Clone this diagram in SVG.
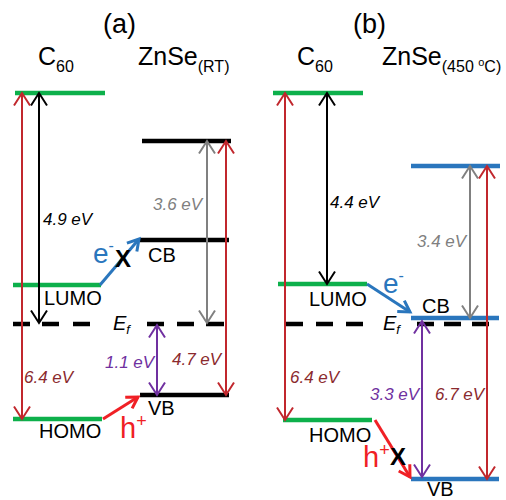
<svg xmlns="http://www.w3.org/2000/svg" width="506" height="500" viewBox="0 0 506 500">
<style>
text{font-family:"Liberation Sans",Arial,sans-serif;}
.title{font-size:27px;fill:#000;}
.mat{font-size:25px;fill:#000;}
.sub{font-size:16px;}
.lbl{font-size:20px;fill:#000;}
.ev{font-size:17px;font-style:italic;}
.lvl{stroke-width:4.5;fill:none;}
.green{stroke:#0db04b;}
.blk{stroke:#000;}
.blu{stroke:#2a76bd;}
.ef{stroke:#000;stroke-width:4.5;fill:none;}
.arr{fill:none;stroke-width:2;}
</style>
<defs>
<marker id="mRed" markerUnits="userSpaceOnUse" viewBox="-15 -15 30 30" markerWidth="30" markerHeight="30" refX="0" refY="0" orient="auto-start-reverse" overflow="visible"><path d="M-12.5,-8 L0,0 L-12.5,8" fill="none" stroke="#c1272d" stroke-width="2"/></marker>
<marker id="mBlk" markerUnits="userSpaceOnUse" viewBox="-15 -15 30 30" markerWidth="30" markerHeight="30" refX="0" refY="0" orient="auto-start-reverse" overflow="visible"><path d="M-12.5,-8 L0,0 L-12.5,8" fill="none" stroke="#000" stroke-width="2"/></marker>
<marker id="mGry" markerUnits="userSpaceOnUse" viewBox="-15 -15 30 30" markerWidth="30" markerHeight="30" refX="0" refY="0" orient="auto-start-reverse" overflow="visible"><path d="M-12.5,-8 L0,0 L-12.5,8" fill="none" stroke="#808080" stroke-width="2"/></marker>
<marker id="mPur" markerUnits="userSpaceOnUse" viewBox="-15 -15 30 30" markerWidth="30" markerHeight="30" refX="0" refY="0" orient="auto-start-reverse" overflow="visible"><path d="M-12.5,-8 L0,0 L-12.5,8" fill="none" stroke="#7030a0" stroke-width="2"/></marker>
<marker id="mBlu" markerUnits="userSpaceOnUse" viewBox="-15 -15 30 30" markerWidth="30" markerHeight="30" refX="0" refY="0" orient="auto" overflow="visible"><path d="M-11,-6.5 L0,0 L-11,6.5" fill="none" stroke="#2a76bd" stroke-width="3"/></marker>
<marker id="mHp" markerUnits="userSpaceOnUse" viewBox="-15 -15 30 30" markerWidth="30" markerHeight="30" refX="0" refY="0" orient="auto" overflow="visible"><path d="M-11,-6.5 L0,0 L-11,6.5" fill="none" stroke="#f02025" stroke-width="3"/></marker>
</defs>

<!-- Titles -->
<g id="title-a"><text class="title" x="119.5" y="33" text-anchor="middle">(a)</text></g>
<g id="title-b"><text class="title" x="369.5" y="33" text-anchor="middle">(b)</text></g>
<g id="head-c60-a"><text class="mat" x="38" y="65">C<tspan class="sub" dy="7">60</tspan></text></g>
<g id="head-znse-a"><text class="mat" x="138" y="65">ZnSe<tspan class="sub" dy="7">(RT)</tspan></text></g>
<g id="head-c60-b"><text class="mat" x="297" y="65">C<tspan class="sub" dy="7">60</tspan></text></g>
<g id="head-znse-b"><text class="mat" x="382" y="65">ZnSe<tspan class="sub" dy="7">(450 <tspan font-size="11" dy="-6">o</tspan><tspan dy="6">C)</tspan></tspan></text></g>

<!-- Panel (a) levels -->
<g id="a-c60-vac"><line class="lvl green" x1="15" y1="93" x2="105" y2="93"/></g>
<g id="a-lumo"><line class="lvl green" x1="13" y1="285" x2="101" y2="285"/><text class="lbl" x="44" y="305">LUMO</text></g>
<g id="a-homo"><line class="lvl green" x1="13" y1="419" x2="102" y2="419"/><text class="lbl" x="39" y="438">HOMO</text></g>
<g id="a-znse-vac"><line class="lvl blk" x1="142" y1="141" x2="231" y2="141"/></g>
<g id="a-cb"><line class="lvl blk" x1="140" y1="240" x2="229" y2="240"/><text class="lbl" x="148" y="262">CB</text></g>
<g id="a-vb"><line class="lvl blk" x1="140" y1="395" x2="229" y2="395"/><text class="lbl" x="148" y="415">VB</text></g>
<g id="a-ef"><path class="ef" d="M13,324H30M42,324H59M73,324H90M147,324H164M177,324H194M206,324H224"/><text x="113" y="330" font-size="20" font-style="italic">E<tspan font-size="13" dy="4">f</tspan></text></g>

<!-- Panel (b) levels -->
<g id="b-c60-vac"><line class="lvl green" x1="273" y1="93" x2="363" y2="93"/></g>
<g id="b-lumo"><line class="lvl green" x1="278" y1="284" x2="367" y2="284"/><text class="lbl" x="309" y="306">LUMO</text></g>
<g id="b-homo"><line class="lvl green" x1="283" y1="420" x2="372" y2="420"/><text class="lbl" x="309" y="442">HOMO</text></g>
<g id="b-znse-vac"><line class="lvl blu" x1="411" y1="166" x2="500" y2="166"/></g>
<g id="b-cb"><line class="lvl blu" x1="411" y1="318" x2="499" y2="318"/><text class="lbl" x="422" y="313">CB</text></g>
<g id="b-vb"><line class="lvl blu" x1="411" y1="479" x2="499" y2="479"/><text class="lbl" x="427" y="496">VB</text></g>
<g id="b-ef"><path class="ef" d="M286,324H303M316,324H333M346,324H363M417,324H434M444,324H461M472,324H489"/><text x="383" y="330" font-size="20" font-style="italic">E<tspan font-size="13" dy="4">f</tspan></text></g>

<!-- Connectors -->
<g id="connectors">
<line class="arr" stroke="#c1272d" x1="22" y1="93" x2="22" y2="419" marker-start="url(#mRed)" marker-end="url(#mRed)"/>
<line class="arr" stroke="#000" x1="39" y1="93" x2="39" y2="323" marker-start="url(#mBlk)" marker-end="url(#mBlk)"/>
<line class="arr" stroke="#808080" x1="207" y1="141" x2="207" y2="323" marker-start="url(#mGry)" marker-end="url(#mGry)"/>
<line class="arr" stroke="#c1272d" x1="226" y1="141" x2="226" y2="395" marker-start="url(#mRed)" marker-end="url(#mRed)"/>
<line class="arr" stroke="#7030a0" x1="157" y1="325" x2="157" y2="395" marker-start="url(#mPur)" marker-end="url(#mPur)"/>
<line fill="none" stroke="#2a76bd" stroke-width="3" x1="100" y1="285" x2="139" y2="239" marker-end="url(#mBlu)"/>
<line fill="none" stroke="#f02025" stroke-width="3" x1="103" y1="419" x2="138" y2="397" marker-end="url(#mHp)"/>

<line class="arr" stroke="#c1272d" x1="285" y1="93" x2="285" y2="420" marker-start="url(#mRed)" marker-end="url(#mRed)"/>
<line class="arr" stroke="#000" x1="327" y1="93" x2="327" y2="284" marker-start="url(#mBlk)" marker-end="url(#mBlk)"/>
<line class="arr" stroke="#808080" x1="470" y1="166" x2="470" y2="318" marker-start="url(#mGry)" marker-end="url(#mGry)"/>
<line class="arr" stroke="#c1272d" x1="487" y1="166" x2="487" y2="479" marker-start="url(#mRed)" marker-end="url(#mRed)"/>
<line class="arr" stroke="#7030a0" x1="422" y1="321" x2="422" y2="477" marker-start="url(#mPur)" marker-end="url(#mPur)"/>
<line fill="none" stroke="#2a76bd" stroke-width="3" x1="367" y1="284" x2="410" y2="312" marker-end="url(#mBlu)"/>
<line fill="none" stroke="#f02025" stroke-width="3" x1="375" y1="420" x2="410" y2="477" marker-end="url(#mHp)"/>
</g>

<!-- Energy labels -->
<g id="labels-a">
<text class="ev" x="43" y="225" fill="#000">4.9 eV</text>
<text class="ev" x="153" y="210" fill="#808080">3.6 eV</text>
<text class="ev" x="24" y="383" fill="#8b2a2e">6.4 eV</text>
<text class="ev" x="105" y="368" fill="#7030a0">1.1 eV</text>
<text class="ev" x="172" y="365" fill="#8b2a2e">4.7 eV</text>
<text x="93" y="263" font-size="28" fill="#2a76bd">e<tspan font-size="16" dy="-12">-</tspan></text>
<text x="115" y="267" font-size="24" font-weight="bold" fill="#000">X</text>
<text x="120" y="438" font-size="29" fill="#f02025">h<tspan font-size="18" dy="-11">+</tspan></text>
</g>
<g id="labels-b">
<text class="ev" x="330" y="208" fill="#000">4.4 eV</text>
<text class="ev" x="417" y="247" fill="#808080">3.4 eV</text>
<text class="ev" x="290" y="383" fill="#8b2a2e">6.4 eV</text>
<text class="ev" x="370" y="400" fill="#7030a0">3.3 eV</text>
<text class="ev" x="435" y="400" fill="#8b2a2e">6.7 eV</text>
<text x="383" y="293" font-size="28" fill="#2a76bd">e<tspan font-size="16" dy="-12">-</tspan></text>
<text x="363" y="467" font-size="29" fill="#f02025">h<tspan font-size="18" dy="-11">+</tspan></text>
<text x="390" y="465" font-size="24" font-weight="bold" fill="#000">X</text>
</g>
</svg>
